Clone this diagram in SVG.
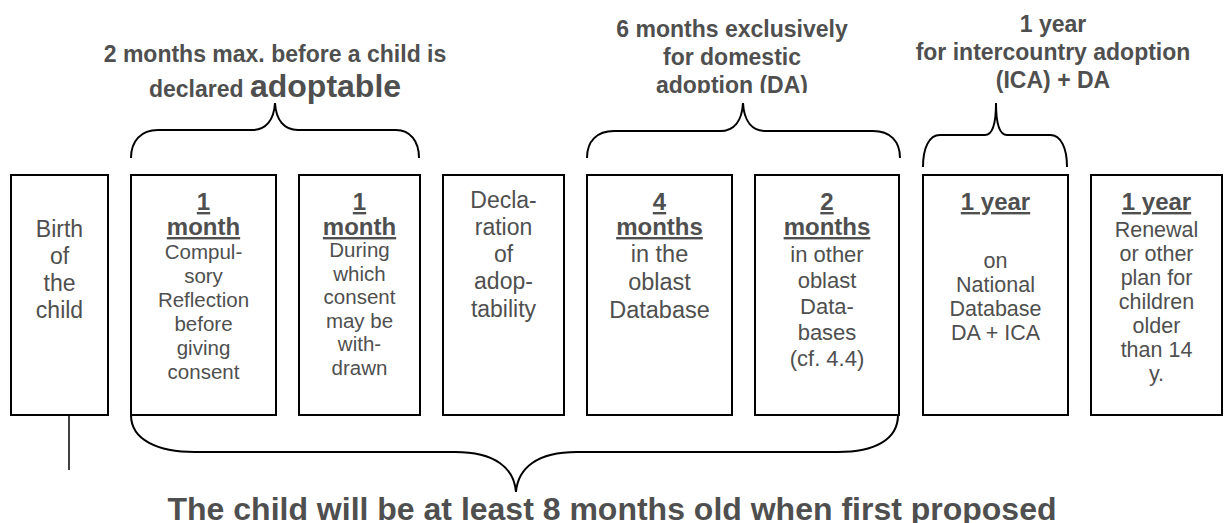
<svg xmlns="http://www.w3.org/2000/svg" width="1224" height="523" viewBox="0 0 1224 523">
<style>
.box{fill:#fff;stroke:#000;stroke-width:2}
.brace{fill:none;stroke:#000;stroke-width:2}
.t{font-family:"Liberation Sans",Arial,sans-serif;fill:#4f4f4f;text-anchor:middle}
.h{font-family:"Liberation Sans",Arial,sans-serif;fill:#4f4f4f;text-anchor:middle;font-weight:bold;font-size:23px}
.b{font-weight:bold;font-size:24px;text-decoration:underline}
</style>
<defs>
<clipPath id="clipDA"><rect x="560" y="0" width="380" height="93"/></clipPath>
</defs>
<rect width="1224" height="523" fill="#fff"/>

<g id="connectors">
<path class="brace" d="M131,158 C131,141 141,130 158,130 L252,130 C266,130 274,120 275,103 C276,120 284,130 298,130 L396,130 C410,130 419,141 419,158"/>
<path class="brace" d="M587,158 C587,141 597,131 614,131 L720,131 C734,131 742,121 743,103 C744,121 752,131 766,131 L873,131 C890,131 900,141 900,158"/>
<path class="brace" d="M923,167 C923,148 929,135 940,135 L985,135 C993,135 996,122 996,103 C996,122 999,135 1007,135 L1050,135 C1061,135 1067,148 1067,167"/>
<path class="brace" d="M131,415 C131,440 158,452 195,452 L455,452 C495,452 514,468 516,492 C518,468 537,452 577,452 L838,452 C874,452 898,440 898,415"/>
<line x1="69" y1="415" x2="69" y2="470" stroke="#000" stroke-width="1.5"/>
</g>

<g id="label-adoptable">
<text class="h" x="275" y="62" font-size="24px">2 months max. before a child is</text>
<text class="h" x="275" y="97">declared <tspan font-size="32px">adoptable</tspan></text>
</g>
<g id="label-domestic" clip-path="url(#clipDA)">
<text class="h" x="732" y="37" font-size="24px">6 months exclusively</text>
<text class="h" x="732" y="65">for domestic</text>
<text class="h" x="732" y="93">adoption (DA)</text>
</g>
<g id="label-intercountry">
<text class="h" x="1053" y="32">1 year</text>
<text class="h" x="1053" y="60">for intercountry adoption</text>
<text class="h" x="1053" y="88">(ICA) + DA</text>
</g>

<g id="node-birth">
<rect class="box" x="11" y="175" width="97" height="240"/>
<text class="t" font-size="23px" x="59.5"><tspan x="59.5" y="237">Birth</tspan><tspan x="59.5" y="264">of</tspan><tspan x="59.5" y="291">the</tspan><tspan x="59.5" y="318">child</tspan></text>
</g>

<g id="node-reflection">
<rect class="box" x="131" y="175" width="145" height="240"/>
<text class="t" x="203.5"><tspan class="b" x="203.5" y="210">1</tspan><tspan class="b" x="203.5" y="235">month</tspan></text>
<text class="t" font-size="20.5px"><tspan x="203.5" y="259">Compul-</tspan><tspan x="203.5" y="283">sory</tspan><tspan x="203.5" y="307">Reflection</tspan><tspan x="203.5" y="331">before</tspan><tspan x="203.5" y="355">giving</tspan><tspan x="203.5" y="379">consent</tspan></text>
</g>

<g id="node-withdraw">
<rect class="box" x="299" y="175" width="121" height="240"/>
<text class="t" x="359.5"><tspan class="b" x="359.5" y="210">1</tspan><tspan class="b" x="359.5" y="235">month</tspan></text>
<text class="t" font-size="20.5px"><tspan x="359.5" y="257">During</tspan><tspan x="359.5" y="281">which</tspan><tspan x="359.5" y="304">consent</tspan><tspan x="359.5" y="328">may be</tspan><tspan x="359.5" y="351">with-</tspan><tspan x="359.5" y="375">drawn</tspan></text>
</g>

<g id="node-declaration">
<rect class="box" x="443" y="175" width="121" height="240"/>
<text class="t" font-size="23px"><tspan x="503.5" y="208">Decla-</tspan><tspan x="503.5" y="235">ration</tspan><tspan x="503.5" y="262">of</tspan><tspan x="503.5" y="289">adop-</tspan><tspan x="503.5" y="317">tability</tspan></text>
</g>

<g id="node-oblast">
<rect class="box" x="587" y="175" width="145" height="240"/>
<text class="t"><tspan class="b" x="659.5" y="210">4</tspan><tspan class="b" x="659.5" y="235">months</tspan></text>
<text class="t" font-size="23.5px"><tspan x="659.5" y="262">in the</tspan><tspan x="659.5" y="290">oblast</tspan><tspan x="659.5" y="318">Database</tspan></text>
</g>

<g id="node-other-oblast">
<rect class="box" x="755" y="175" width="144" height="240"/>
<text class="t"><tspan class="b" x="827" y="210">2</tspan><tspan class="b" x="827" y="235">months</tspan></text>
<text class="t" font-size="22px"><tspan x="827" y="262">in other</tspan><tspan x="827" y="288">oblast</tspan><tspan x="827" y="314">Data-</tspan><tspan x="827" y="340">bases</tspan><tspan x="827" y="366">(cf. 4.4)</tspan></text>
</g>

<g id="node-national">
<rect class="box" x="923" y="175" width="145" height="240"/>
<text class="t"><tspan class="b" x="995.5" y="210">1 year</tspan></text>
<text class="t" font-size="21.5px"><tspan x="995.5" y="268">on</tspan><tspan x="995.5" y="292">National</tspan><tspan x="995.5" y="316">Database</tspan><tspan x="995.5" y="340">DA + ICA</tspan></text>
</g>

<g id="node-renewal">
<rect class="box" x="1091" y="175" width="131" height="240"/>
<text class="t"><tspan class="b" x="1156.5" y="210">1 year</tspan></text>
<text class="t" font-size="21.5px"><tspan x="1156.5" y="237">Renewal</tspan><tspan x="1156.5" y="261">or other</tspan><tspan x="1156.5" y="285">plan for</tspan><tspan x="1156.5" y="309">children</tspan><tspan x="1156.5" y="333">older</tspan><tspan x="1156.5" y="357">than 14</tspan><tspan x="1156.5" y="381">y.</tspan></text>
</g>

<g id="label-bottom">
<text class="t" font-weight="bold" font-size="32px" x="612" y="520">The child will be at least 8 months old when first proposed</text>
</g>
</svg>
